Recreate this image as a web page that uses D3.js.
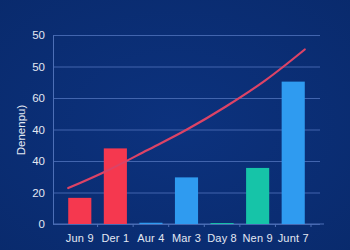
<!DOCTYPE html>
<html lang="en">
<head>
    <meta charset="UTF-8">
    <title>d3</title>
    <script src="https://d3js.org/d3.v7.min.js"></script>
    <style>
        body { margin: 0; background: #0a2e74; }
        text { font-family: "Liberation Sans", Arial, sans-serif; fill: #e3e8f2; }
    </style>
</head>
<body>
    <div class="canvas"></div>
    <script>
      const categories = ['Jun 9', 'Der 1', 'Aur 4', 'Mar 3', 'Day 8', 'Nen 9', 'Junt 7'];
      const barValues = [8.3, 24.0, 0.4, 14.8, 0.3, 17.8, 45.2];
      const barColors = ['#f5384f', '#f5384f', '#2f9bf0', '#2f9bf0', '#16c4a8', '#16c4a8', '#2f9bf0'];
      const lineValues = [11.4, 17.0, 23.4, 29.9, 37.3, 45.6, 55.4];
      const yTicks = [0, 10, 20, 30, 40, 50, 60];
      const yTickLabels = ['0', '20', '40', '40', '60', '50', '50'];
      const yTitle = 'Denenpu)';

      const width = 350;
      const height = 250;
      const [mt, mb, ml, mr] = [35, 26, 53, 30];
      const graphWidth = width - ml - mr;
      const graphHeight = height - mt - mb;

      const svg = d3.select('.canvas')
                      .append('svg')
                      .attr('width', width)
                      .attr('height', height);

      const grad = svg.append('defs').append('radialGradient')
                        .attr('id', 'bg')
                        .attr('cx', '50%').attr('cy', '50%').attr('r', '75%');
      grad.append('stop').attr('offset', '0%').attr('stop-color', '#0c327e');
      grad.append('stop').attr('offset', '100%').attr('stop-color', '#092a6c');

      svg.append('rect')
          .attr('width', width)
          .attr('height', height)
          .attr('fill', 'url(#bg)');

      const graph = svg.append('g')
                        .attr('transform', `translate(${ml}, ${mt})`);

      const x = d3.scaleBand()
                    .domain(categories)
                    .range([62 - ml, 311 - ml])
                    .paddingInner(0.35)
                    .paddingOuter(0.175);

      const xLine = d3.scalePoint()
                    .domain(categories)
                    .range([x(categories[0]), x(categories[categories.length - 1]) + x.bandwidth()]);

      const y = d3.scaleLinear()
                    .domain([0, 60])
                    .range([graphHeight, 0]);

      // grid
      graph.append('g')
        .call(d3.axisLeft(y).tickValues(yTicks).tickSize(-graphWidth).tickFormat(''))
        .call(g => g.select('.domain').remove())
        .call(g => g.selectAll('line').attr('stroke', '#4265ae').attr('stroke-width', 1));

      // y axis
      const yAxisG = graph.append('g')
        .call(d3.axisLeft(y).tickValues(yTicks).tickSize(0).tickPadding(8)
                .tickFormat((d, i) => yTickLabels[i]));
      yAxisG.select('.domain').attr('stroke', '#4d6fb6');
      yAxisG.selectAll('text')
        .attr('font-size', 11.5)
        .style('fill', '#e3e8f2');

      // x axis
      const step = x.step();
      const xAxisG = graph.append('g')
        .attr('transform', `translate(0, ${graphHeight})`);
      xAxisG.append('line')
        .attr('x1', 0).attr('x2', graphWidth + 4)
        .attr('stroke', '#4d6fb6');
      xAxisG.selectAll('.tk')
        .data(categories)
        .enter()
        .append('line')
        .attr('class', 'tk')
        .attr('x1', d => x(d) + x.bandwidth() + (step - x.bandwidth()) / 2)
        .attr('x2', d => x(d) + x.bandwidth() + (step - x.bandwidth()) / 2)
        .attr('y1', 0).attr('y2', 3)
        .attr('stroke', '#4d6fb6');
      xAxisG.selectAll('.lbl')
        .data(categories)
        .enter()
        .append('text')
        .attr('class', 'lbl')
        .attr('x', d => x(d) + x.bandwidth() / 2)
        .attr('y', 18)
        .attr('text-anchor', 'middle')
        .attr('font-size', 11)
        .attr('letter-spacing', 0.2)
        .text(d => d);

      // bars
      graph.selectAll('.bar')
        .data(barValues)
        .enter()
        .append('rect')
        .attr('class', 'bar')
        .attr('x', (d, i) => x(categories[i]))
        .attr('y', d => y(d))
        .attr('width', x.bandwidth())
        .attr('height', d => graphHeight - y(d))
        .attr('fill', (d, i) => barColors[i]);

      // line
      const line = d3.line()
                      .x((d, i) => xLine(categories[i]))
                      .y(d => y(d))
                      .curve(d3.curveMonotoneX);

      graph.append('path')
        .attr('fill', 'none')
        .attr('stroke', '#dc4366')
        .attr('stroke-width', 2.2)
        .attr('stroke-linecap', 'round')
        .attr('d', line(lineValues));

      // y title
      svg.append('text')
        .attr('transform', `translate(25, 130) rotate(-90)`)
        .attr('text-anchor', 'middle')
        .attr('font-size', 11.5)
        .text(yTitle);
    </script>
</body>
</html>
